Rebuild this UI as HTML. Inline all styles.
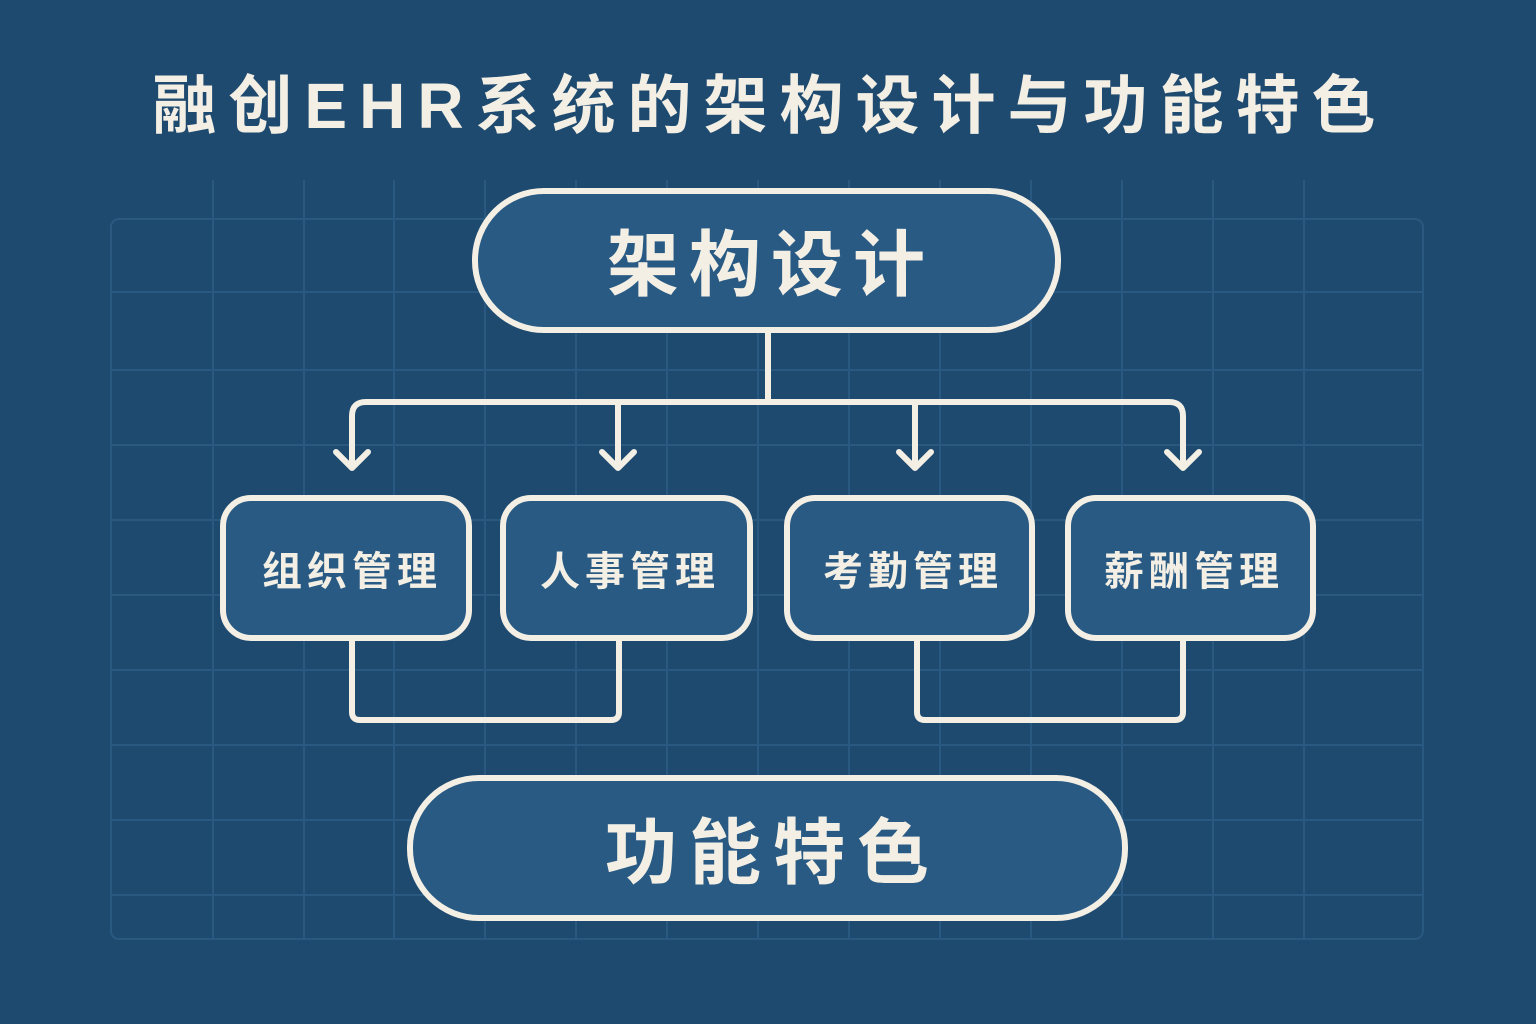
<!DOCTYPE html>
<html><head><meta charset="utf-8"><style>
body{margin:0;width:1536px;height:1024px;background:#1f4a70;overflow:hidden}
svg{display:block}
text{font-family:"Liberation Sans","Noto Sans CJK SC",sans-serif;font-weight:bold;fill:#f3efe4}
</style></head><body>
<svg width="1536" height="1024" viewBox="0 0 1536 1024">
<rect width="1536" height="1024" fill="#1f4a70"/>
<g stroke="#2b5a82" stroke-width="2" fill="none" opacity="0.9">
<rect x="111" y="219" width="1312" height="720" rx="8"/>
<path d="M213 180V940M304 180V940M394 180V940M485 180V940M576 180V940M667 180V940M758 180V940M849 180V940M940 180V940M1031 180V940M1122 180V940M1213 180V940M1304 180V940"/>
<path d="M111 292H1423M111 370H1423M111 445H1423M111 520H1423M111 595H1423M111 670H1423M111 745H1423M111 820H1423M111 895H1423"/>
</g>
<text x="770" y="128" font-size="64" text-anchor="middle" letter-spacing="12">融创EHR系统的架构设计与功能特色</text>
<g stroke="#f3efe4" stroke-width="6" fill="none" stroke-linecap="round" stroke-linejoin="round">
<path d="M768 332V402"/>
<path d="M352 466V416Q352 402 366 402H1169Q1183 402 1183 416V466"/>
<path d="M618 402V466M915 402V466"/>
<path d="M336 452L352 468L368 452M602 452L618 468L634 452M899 452L915 468L931 452M1167 452L1183 468L1199 452"/>
<path d="M352 640V712Q352 720 360 720H611Q619 720 619 712V640"/>
<path d="M917 640V712Q917 720 925 720H1175Q1183 720 1183 712V640"/>
</g>
<g fill="#285a84" stroke="#f3efe4" stroke-width="6">
<rect x="475" y="191" width="583" height="139" rx="69"/>
<rect x="223" y="498" width="246" height="140" rx="28"/>
<rect x="503" y="498" width="247" height="140" rx="28"/>
<rect x="787" y="498" width="245" height="140" rx="28"/>
<rect x="1068" y="498" width="245" height="140" rx="28"/>
<rect x="410" y="778" width="715" height="140" rx="69"/>
</g>
<text x="771" y="290" font-size="72" text-anchor="middle" letter-spacing="10">架构设计</text>
<text x="352" y="585" font-size="40" text-anchor="middle" letter-spacing="5">组织管理</text>
<text x="630" y="585" font-size="40" text-anchor="middle" letter-spacing="5">人事管理</text>
<text x="913" y="585" font-size="40" text-anchor="middle" letter-spacing="5">考勤管理</text>
<text x="1194" y="585" font-size="40" text-anchor="middle" letter-spacing="5">薪酬管理</text>
<text x="773" y="878" font-size="72" text-anchor="middle" letter-spacing="12">功能特色</text>
</svg>
</body></html>
